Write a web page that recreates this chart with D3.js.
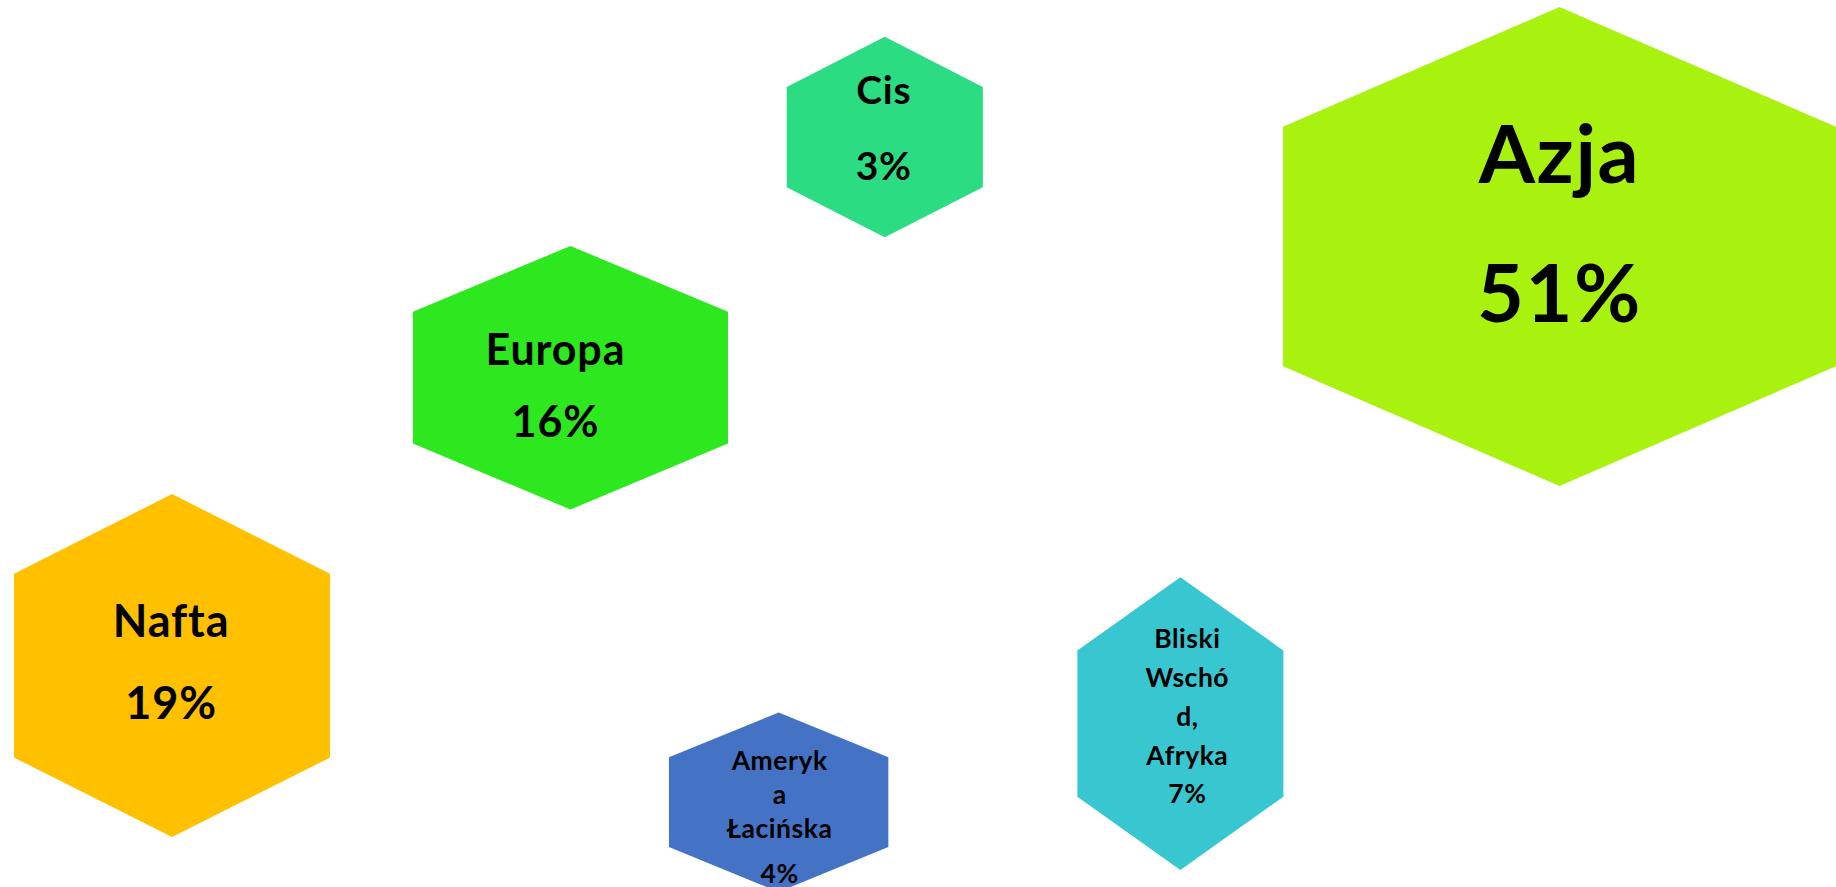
<!DOCTYPE html>
<html>
<head>
<meta charset="utf-8">
<script src="https://d3js.org/d3.v7.min.js"></script>
<style>
body { margin: 0; background: #fff; overflow: hidden; }
text { font-family: Lato, "Open Sans", sans-serif; font-weight: 700; fill: #000; letter-spacing: 0.02em; }
</style>
</head>
<body>
<script>
var width = 1836, height = 887;

// data
var regions = ["Azja", "Nafta", "Europa", "Bliski Wschód, Afryka", "Ameryka Łacińska", "Cis"];
var shares = [51, 19, 16, 7, 4, 3];
// labels as they wrap inside the hexagons
var labelLines = [["Azja"], ["Nafta"], ["Europa"], ["Bliski", "Wschó", "d,", "Afryka"], ["Ameryk", "a", "Łacińska"], ["Cis"]];
var colors = ["#a9f20f", "#ffc000", "#2de81e", "#38c6d0", "#4472c4", "#2bdc83"];

// layout, in percent of the page: centre, size, shoulder fraction, text settings
var layout = [
  {cx: 84.94, cy: 27.79, w: 30.12, h: 54.00, k: 0.25,  fs: 81, y0: -63, step: 0,  pct: 139, dx: 0},
  {cx: 9.37,  cy: 75.04, w: 17.21, h: 38.67, k: 0.232, fs: 45, y0: -29, step: 0,  pct: 82,  dx: -1},
  {cx: 31.07, cy: 42.58, w: 17.16, h: 29.70, k: 0.25,  fs: 43, y0: -13, step: 0,  pct: 72,  dx: -15},
  {cx: 64.29, cy: 81.58, w: 11.22, h: 33.00, k: 0.25,  fs: 26.5, y0: -76, step: 39, pct: 38, dx: 7},
  {cx: 42.41, cy: 90.44, w: 11.95, h: 20.23, k: 0.25,  fs: 26.5, y0: -32, step: 34, pct: 45, dx: 1},
  {cx: 48.19, cy: 15.45, w: 10.68, h: 22.62, k: 0.25,  fs: 39, y0: -33, step: 0,  pct: 76,  dx: -1}
];

var x = d3.scaleLinear().domain([0, 100]).range([0, width]);
var y = d3.scaleLinear().domain([0, 100]).range([0, height]);

var items = regions.map(function(r, i) {
  return {name: r, share: shares[i], lines: labelLines[i], color: colors[i], l: layout[i]};
});

var svg = d3.select("body").append("svg")
  .attr("width", width).attr("height", height);

var line = d3.line();

function hexPoints(d) {
  var cx = x(d.l.cx), cy = y(d.l.cy);
  var hw = (x(d.l.w) - x(0)) / 2, h = y(d.l.h) - y(0);
  var top = cy - h / 2, bot = cy + h / 2, s = h * d.l.k;
  return [
    [cx, top], [cx + hw, top + s], [cx + hw, bot - s],
    [cx, bot], [cx - hw, bot - s], [cx - hw, top + s]
  ];
}

var g = svg.selectAll("g.hex").data(items).enter().append("g").attr("class", "hex");

g.append("path")
  .attr("d", function(d) { return line(hexPoints(d)) + "Z"; })
  .style("fill", function(d) { return d.color; });

g.each(function(d) {
  var sel = d3.select(this);
  var tx = x(d.l.cx) + d.l.dx, cy = y(d.l.cy);
  var base = cy + d.l.y0;
  d.lines.forEach(function(t, k) {
    sel.append("text")
      .attr("x", tx).attr("y", base + k * d.l.step)
      .attr("text-anchor", "middle")
      .style("font-size", d.l.fs + "px")
      .text(t);
  });
  var last = base + (d.lines.length - 1) * d.l.step;
  sel.append("text")
    .attr("x", tx).attr("y", last + d.l.pct)
    .attr("text-anchor", "middle")
    .style("font-size", d.l.fs + "px")
    .text(d.share + "%");
});
</script>
</body>
</html>
